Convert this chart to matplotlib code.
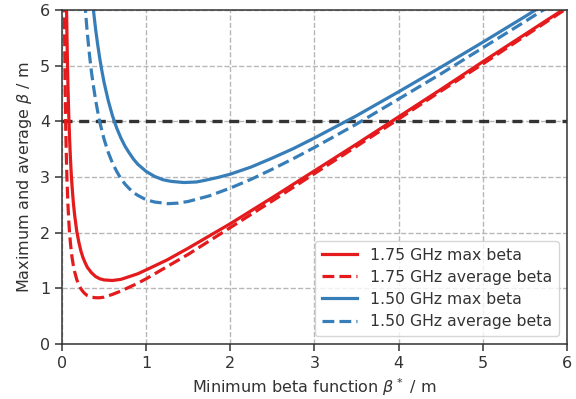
import numpy as np
import matplotlib
matplotlib.use('Agg')
import matplotlib.pyplot as plt

# values
x_r_max = [0.05, 0.055, 0.06, 0.065, 0.07, 0.075, 0.08, 0.09, 0.10, 0.11, 0.12, 0.135, 0.15,
           0.175, 0.20, 0.225, 0.25, 0.275, 0.30, 0.35, 0.40, 0.45, 0.50, 0.60, 0.70, 0.80,
           0.90, 1.00, 1.25, 1.50, 2.00, 2.50, 3.00, 3.50, 4.00, 4.50, 5.00, 5.50, 6.00]
y_r_max = [6.55, 5.96, 5.48, 5.07, 4.71, 4.41, 4.14, 3.70, 3.35, 3.06, 2.83, 2.54, 2.32,
           2.03, 1.83, 1.67, 1.55, 1.46, 1.38, 1.28, 1.21, 1.17, 1.15, 1.14, 1.16, 1.21,
           1.26, 1.33, 1.51, 1.72, 2.16, 2.63, 3.11, 3.59, 4.08, 4.57, 5.07, 5.56, 6.05]

x_r_avg = [0.028, 0.030, 0.035, 0.040, 0.045, 0.050, 0.055, 0.060, 0.070, 0.080, 0.090, 0.10,
           0.11, 0.12, 0.135, 0.15, 0.175, 0.20, 0.225, 0.25, 0.275, 0.30, 0.35, 0.40, 0.45,
           0.50, 0.60, 0.70, 0.80, 0.90, 1.00, 1.25, 1.50, 2.00, 2.50, 3.00, 3.50, 4.00,
           4.50, 5.00, 5.50, 6.00]
y_r_avg = [6.17, 5.76, 4.95, 4.34, 3.87, 3.49, 3.18, 2.93, 2.53, 2.23, 2.00, 1.82,
           1.67, 1.55, 1.41, 1.30, 1.16, 1.06, 0.99, 0.94, 0.90, 0.87, 0.84, 0.83, 0.83,
           0.84, 0.89, 0.95, 1.02, 1.09, 1.17, 1.39, 1.61, 2.09, 2.57, 3.06, 3.55, 4.04,
           4.54, 5.03, 5.53, 6.03]

x_b_max = [0.35, 0.375, 0.40, 0.425, 0.45, 0.475, 0.50, 0.55, 0.60, 0.65, 0.70, 0.75, 0.80,
           0.85, 0.90, 1.00, 1.10, 1.20, 1.30, 1.45, 1.60, 1.70, 1.85, 2.00, 2.25, 2.50,
           2.75, 3.00, 3.50, 4.00, 4.50, 5.00, 5.50, 6.00]
y_b_max = [6.35, 5.98, 5.65, 5.37, 5.12, 4.90, 4.70, 4.37, 4.10, 3.88, 3.70, 3.55, 3.43,
           3.32, 3.23, 3.10, 3.01, 2.95, 2.92, 2.90, 2.91, 2.94, 2.99, 3.05, 3.18, 3.34,
           3.51, 3.70, 4.10, 4.53, 4.97, 5.42, 5.88, 6.35]

x_b_avg = [0.27, 0.275, 0.30, 0.325, 0.35, 0.375, 0.40, 0.425, 0.45, 0.50, 0.55, 0.60, 0.65,
           0.70, 0.75, 0.80, 0.85, 0.90, 1.00, 1.10, 1.26, 1.38, 1.50, 1.75, 2.00, 2.25,
           2.50, 2.75, 3.00, 3.50, 4.00, 4.50, 5.00, 5.50, 6.00]
y_b_avg = [6.16, 6.06, 5.60, 5.22, 4.89, 4.62, 4.38, 4.17, 3.98, 3.68, 3.44, 3.25, 3.10,
           2.97, 2.87, 2.79, 2.72, 2.67, 2.59, 2.55, 2.52, 2.53, 2.56, 2.66, 2.80, 2.96,
           3.14, 3.33, 3.53, 3.95, 4.40, 4.85, 5.32, 5.79, 6.27]

beta_limit = 4.0

red = '#e41a1c'
blue = '#377eb8'
txt = '#333333'

plt.rcParams['font.family'] = 'DejaVu Sans'
plt.rcParams['text.color'] = txt
plt.rcParams['axes.labelcolor'] = txt
plt.rcParams['xtick.color'] = txt
plt.rcParams['ytick.color'] = txt

fig = plt.figure(figsize=(5.76, 3.99), dpi=100)
ax = fig.add_axes([0.1076, 0.138, 0.8766, 0.837])

ax.axhline(beta_limit, color='#333333', ls='--', lw=2.4, dashes=(3, 2), zorder=1.5)
ax.plot(x_r_max, y_r_max, color=red, lw=2.3, label='1.75 GHz max beta')
ax.plot(x_r_avg, y_r_avg, color=red, lw=2.3, ls='--', label='1.75 GHz average beta')
ax.plot(x_b_max, y_b_max, color=blue, lw=2.3, label='1.50 GHz max beta')
ax.plot(x_b_avg, y_b_avg, color=blue, lw=2.3, ls='--', label='1.50 GHz average beta')

ax.set_xlim(0, 6)
ax.set_ylim(0, 6)
ax.grid(True, ls='--', color='#b8b8b8', lw=1)
ax.set_axisbelow(True)
for s in ax.spines.values():
    s.set_color('#333333')
    s.set_linewidth(1.1)
ax.tick_params(direction='out', length=5, width=1.1, labelsize=11.5, color='#333333')
ax.set_xlabel(r'Minimum beta function $\beta^*$ / m', fontsize=11.5)
ax.set_ylabel(r'Maximum and average $\beta$ / m', fontsize=11.5)

leg = ax.legend(loc='lower right', fontsize=11.3, frameon=True, fancybox=True,
                handlelength=2.25, borderpad=0.45, labelspacing=0.45)
leg.get_frame().set_edgecolor('#cccccc')

fig.savefig('out.png', dpi=100)
